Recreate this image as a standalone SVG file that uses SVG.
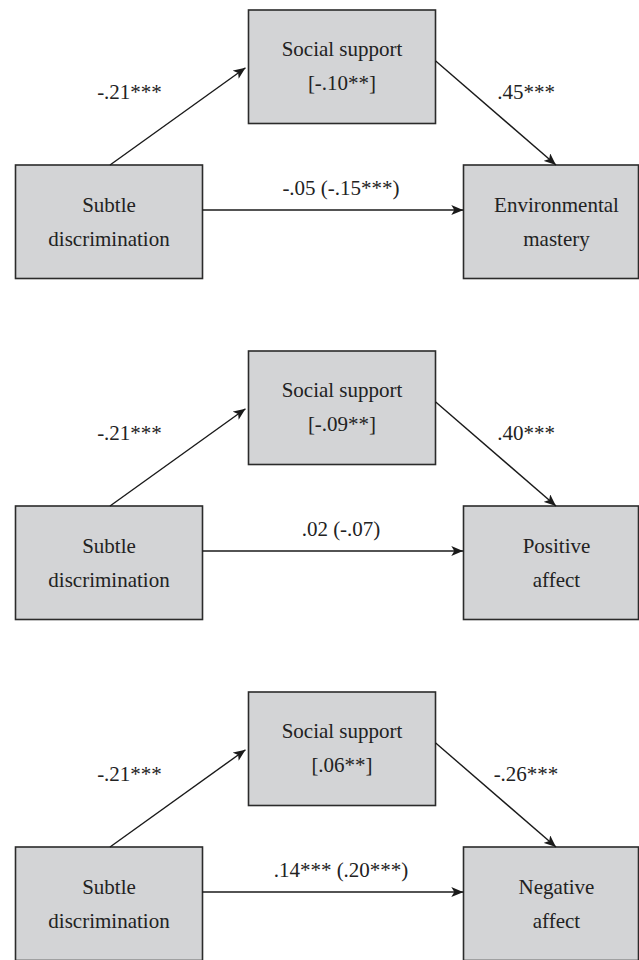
<svg xmlns="http://www.w3.org/2000/svg" width="639" height="960" viewBox="0 0 639 960">
<style>
.box{fill:#d3d4d6;stroke:#2b2b2b;stroke-width:1.6}
.t{font-size:21px;fill:#222;text-anchor:middle}
.c{stroke:#1a1a1a;stroke-width:1.4;fill:none;marker-end:url(#ah)}
</style>
<defs>
<marker id="ah" viewBox="0 0 12 10" refX="12" refY="5" markerWidth="12" markerHeight="10" markerUnits="userSpaceOnUse" orient="auto">
<path d="M0,0 L12,5 L0,10 L3,5 Z" fill="#1a1a1a"/>
</marker>
</defs>
<rect width="639" height="960" fill="#fff"/>
<g font-family="Liberation Serif, DejaVu Serif, serif">

<!-- Panel 1 -->
<g id="p1-support"><rect class="box" x="248.5" y="10" width="187" height="113.5"/><text class="t" x="342" y="55.7">Social support</text><text class="t" x="342" y="89.7">[-.10**]</text></g>
<g id="p1-subtle"><rect class="box" x="15.5" y="165" width="187" height="113.5"/><text class="t" x="109" y="211.5">Subtle</text><text class="t" x="109" y="246">discrimination</text></g>
<g id="p1-outcome"><rect class="box" x="463.5" y="165" width="175" height="113.5"/><text class="t" x="556.5" y="212">Environmental</text><text class="t" x="556.5" y="245.5">mastery</text></g>
<g id="p1-connectors">
<line class="c" x1="110" y1="165" x2="245.5" y2="67.7"/>
<line class="c" x1="435.7" y1="61" x2="556" y2="165"/>
<line class="c" x1="202.5" y1="210" x2="463.3" y2="210"/>
<text class="t" x="129.5" y="98.7">-.21***</text>
<text class="t" x="526" y="98.7">.45***</text>
<text class="t" x="341" y="195">-.05 (-.15***)</text>
</g>

<!-- Panel 2 -->
<g id="p2-support"><rect class="box" x="248.5" y="351" width="187" height="113.5"/><text class="t" x="342" y="396.7">Social support</text><text class="t" x="342" y="430.7">[-.09**]</text></g>
<g id="p2-subtle"><rect class="box" x="15.5" y="506" width="187" height="113.5"/><text class="t" x="109" y="552.5">Subtle</text><text class="t" x="109" y="587">discrimination</text></g>
<g id="p2-outcome"><rect class="box" x="463.5" y="506" width="175" height="113.5"/><text class="t" x="556.5" y="553">Positive</text><text class="t" x="556.5" y="586.5">affect</text></g>
<g id="p2-connectors">
<line class="c" x1="110" y1="506" x2="245.5" y2="408.7"/>
<line class="c" x1="435.7" y1="402" x2="556" y2="506"/>
<line class="c" x1="202.5" y1="551" x2="463.3" y2="551"/>
<text class="t" x="129.5" y="439.7">-.21***</text>
<text class="t" x="526" y="439.7">.40***</text>
<text class="t" x="341" y="536">.02 (-.07)</text>
</g>

<!-- Panel 3 -->
<g id="p3-support"><rect class="box" x="248.5" y="692" width="187" height="113.5"/><text class="t" x="342" y="737.7">Social support</text><text class="t" x="342" y="771.7">[.06**]</text></g>
<g id="p3-subtle"><rect class="box" x="15.5" y="847" width="187" height="113.5"/><text class="t" x="109" y="893.5">Subtle</text><text class="t" x="109" y="928">discrimination</text></g>
<g id="p3-outcome"><rect class="box" x="463.5" y="847" width="175" height="113.5"/><text class="t" x="556.5" y="894">Negative</text><text class="t" x="556.5" y="927.5">affect</text></g>
<g id="p3-connectors">
<line class="c" x1="110" y1="847" x2="245.5" y2="749.7"/>
<line class="c" x1="435.7" y1="743" x2="556" y2="847"/>
<line class="c" x1="202.5" y1="892" x2="463.3" y2="892"/>
<text class="t" x="129.5" y="780.7">-.21***</text>
<text class="t" x="526" y="780.7">-.26***</text>
<text class="t" x="341" y="877">.14*** (.20***)</text>
</g>
</g>
</svg>
